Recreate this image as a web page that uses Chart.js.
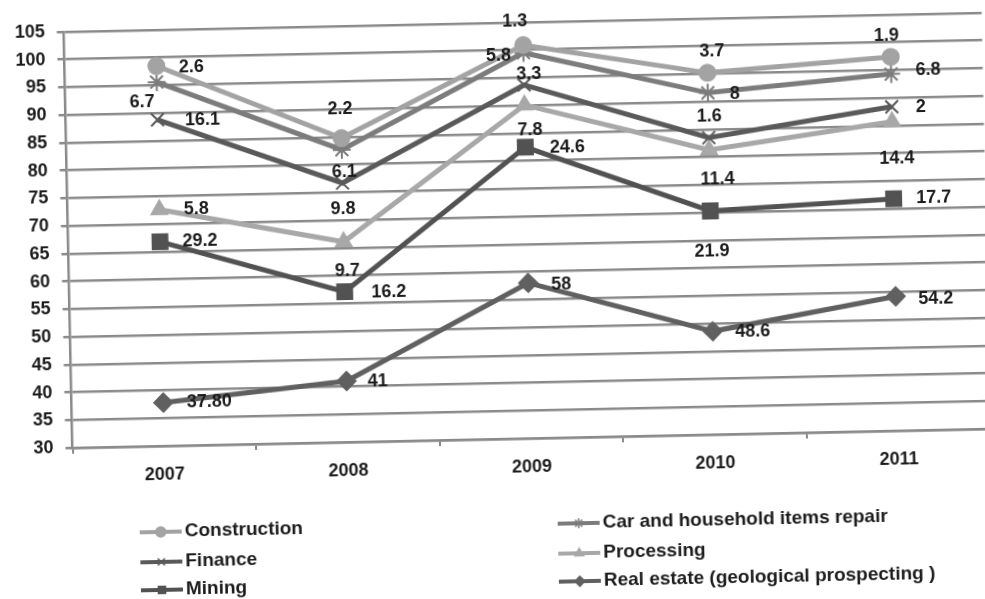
<!DOCTYPE html>
<html>
<head>
<meta charset="utf-8">
<script src="https://cdn.jsdelivr.net/npm/chart.js@4.4.1/dist/chart.umd.min.js"></script>
<style>
  html, body { margin: 0; padding: 0; background: #fff; overflow: hidden; width: 985px; height: 599px; }
  #wrap {
    position: absolute; left: 0; top: 0; width: 1000px; height: 620px;
    transform-origin: 492.5px 299.5px;
    transform: rotate(-1.19deg);
  }
</style>
</head>
<body>
<div id="wrap"><canvas id="lineChart" width="1000" height="620"></canvas></div>
<script>
// categories
const years = ['2007', '2008', '2009', '2010', '2011'];

// series values (read against the gridlines)
const construction = [98.5, 84.8, 100.9, 95.2, 97.4];
const carRepair = [95.6, 82.7, 99.5, 91.6, 94.3];
const finance = [88.8, 76.7, 93.7, 83.5, 88.4];
const processing = [72.6, 66.1, 90.1, 81.3, 85.7];
const mining = [66.8, 57.1, 82.5, 70.3, 71.8];
const realEstate = [37.8, 41, 58, 48.6, 54.2];

// value labels printed next to the points
const constructionLabels = ['2.6', '2.2', '1.3', '3.7', '1.9'];
const carRepairLabels = ['6.7', '6.1', '5.8', '8', '6.8'];
const financeLabels = ['16.1', '9.8', '3.3', '1.6', '2'];
const processingLabels = ['5.8', '9.7', '7.8', '11.4', '14.4'];
const miningLabels = ['29.2', '16.2', '24.6', '21.9', '17.7'];
const realEstateLabels = ['37.80', '41', '58', '48.6', '54.2'];

// y axis ticks
const yMin = 30, yMax = 105, yStep = 5;

// where each label sits relative to its point (px)
const labelOffsets = {
    'Construction': [[35, 2], [-1, -29], [-8, -24], [5, -21], [-4, -21]],
    'Car and household items repair': [[-15, 20], [2, 22], [-25, 3], [27, 2], [37, -3]],
    'Finance': [[45, 1], [0, 26], [5, -11], [1, -21], [29, 1]],
    'Processing': [[37, 0], [3, 29], [5, 25], [8, 30], [4, 37]],
    'Mining': [[40, 0], [44, 1], [42, 1], [1, 41], [40, 0]],
    'Real estate (geological prospecting )': [[46, 0], [31, 1], [33, 2], [40, 1], [40, 3]]
};

// legend slots: two columns, three rows
const legendSlots = {
    'Construction': { x: 135, y: 525 },
    'Finance': { x: 135, y: 555 },
    'Mining': { x: 135, y: 583 },
    'Car and household items repair': { x: 553, y: 525 },
    'Processing': { x: 553, y: 555 },
    'Real estate (geological prospecting )': { x: 553, y: 583 }
};

function series(label, data, labels, color, pointStyle, radius) {
    return {
        label: label,
        data: data,
        valueLabels: labels,
        borderColor: color,
        backgroundColor: color,
        pointBackgroundColor: color,
        pointBorderColor: color,
        pointStyle: pointStyle,
        pointRadius: radius,
        pointBorderWidth: 2,
        borderWidth: 5,
        tension: 0,
        fill: false
    };
}

const valueLabelPlugin = {
    id: 'valueLabels',
    afterDatasetsDraw(chart) {
        const ctx = chart.ctx;
        ctx.save();
        ctx.font = 'bold 18px "Liberation Sans", Arial, sans-serif';
        ctx.fillStyle = '#1c1c1c';
        ctx.textAlign = 'center';
        ctx.textBaseline = 'middle';
        chart.data.datasets.forEach((ds, i) => {
            const meta = chart.getDatasetMeta(i);
            const offs = labelOffsets[ds.label];
            meta.data.forEach((pt, j) => {
                const o = offs[j];
                ctx.fillText(ds.valueLabels[j], pt.x + o[0], pt.y + o[1]);
            });
        });
        ctx.restore();
    }
};

const sideLegendPlugin = {
    id: 'sideLegend',
    afterDraw(chart) {
        const ctx = chart.ctx;
        ctx.save();
        ctx.font = 'bold 19px "Liberation Sans", Arial, sans-serif';
        ctx.textBaseline = 'middle';
        chart.data.datasets.forEach(ds => {
            const slot = legendSlots[ds.label];
            ctx.strokeStyle = ds.borderColor;
            ctx.lineWidth = 4;
            ctx.beginPath();
            ctx.moveTo(slot.x, slot.y);
            ctx.lineTo(slot.x + 42, slot.y);
            ctx.stroke();
            ctx.fillStyle = ds.borderColor;
            ctx.lineWidth = 1.5;
            Chart.helpers.drawPoint(ctx, {
                pointStyle: ds.pointStyle,
                radius: 5,
                borderWidth: 1.5
            }, slot.x + 21, slot.y);
            ctx.fillStyle = '#1c1c1c';
            ctx.fillText(ds.label, slot.x + 45, slot.y);
        });
        ctx.restore();
    }
};

const ctx = document.getElementById('lineChart').getContext('2d');
new Chart(ctx, {
    type: 'line',
    data: {
        labels: years,
        datasets: [
            series('Construction', construction, constructionLabels, '#a3a3a3', 'circle', 8),
            series('Car and household items repair', carRepair, carRepairLabels, '#7c7c7c', 'star', 9),
            series('Finance', finance, financeLabels, '#5a5a5a', 'crossRot', 9),
            series('Processing', processing, processingLabels, '#a8a8a8', 'triangle', 9),
            series('Mining', mining, miningLabels, '#525252', 'rect', 10.5),
            series('Real estate (geological prospecting )', realEstate, realEstateLabels, '#606060', 'rectRot', 9)
        ]
    },
    options: {
        responsive: false,
        animation: false,
        layout: { padding: { top: 23, right: 10, bottom: 0, left: 0 } },
        plugins: {
            legend: { display: false },
            tooltip: { enabled: false }
        },
        scales: {
            x: {
                offset: true,
                afterFit: s => { s.height = 181; },
                grid: {
                    offset: true,
                    drawOnChartArea: false,
                    color: '#8a8a8a',
                    lineWidth: 2,
                    tickLength: 6
                },
                border: { color: '#8a8a8a', width: 2.5 },
                ticks: {
                    color: '#1c1c1c',
                    padding: 12,
                    font: { family: '"Liberation Sans", Arial, sans-serif', size: 18, weight: 'bold' }
                }
            },
            y: {
                min: yMin,
                max: yMax,
                afterFit: s => { s.width = 69.5; },
                grid: {
                    color: '#8a8a8a',
                    lineWidth: 2.5,
                    tickLength: 7
                },
                border: { color: '#8a8a8a', width: 2.5 },
                ticks: {
                    stepSize: yStep,
                    color: '#1c1c1c',
                    padding: 12,
                    font: { family: '"Liberation Sans", Arial, sans-serif', size: 18, weight: 'bold' }
                }
            }
        }
    },
    plugins: [valueLabelPlugin, sideLegendPlugin]
});
</script>
</body>
</html>
